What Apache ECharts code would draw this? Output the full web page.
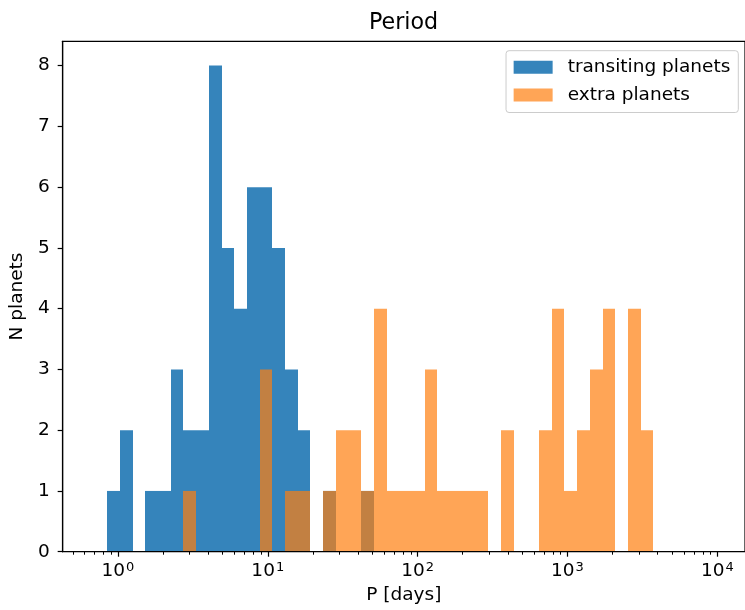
<!DOCTYPE html>
<html><head><meta charset="utf-8">
<script src="https://cdn.jsdelivr.net/npm/echarts@6/dist/echarts.min.js"></script>
<style>html,body{margin:0;padding:0;background:#fff}#c{width:745px;height:610px}</style>
</head><body><div id="c"></div>
<script>
// ---- data ----
const binStartDays = 0.849;   // first bin edge [days]
const binEndDays = 3743;      // last bin edge [days]
const nBins = 43;             // log-spaced bins
const transitingCounts = [1,2,0,1,1,3,2,2,8,5,4,6,6,5,3,2,0,1,0,0,1,0,0,0,0,0,0,0,0,0,0,0,0,0,0,0,0,0,0,0,0,0,0];
const extraCounts      = [0,0,0,0,0,0,1,0,0,0,0,0,3,0,1,1,0,1,2,2,1,4,1,1,1,3,1,1,1,1,0,2,0,0,2,4,1,2,3,4,0,4,2];
const xTickExponents = [0,1,2,3,4];
const yTicks = [0,1,2,3,4,5,6,7,8];
const seriesNames = ['transiting planets','extra planets'];
const titleText = 'Period';
const xName = 'P [days]';
const yName = 'N planets';

// ---- build ----
const FONT = 'DejaVu Sans';
const xMin = -0.3687, xMax = 4.1847;
const lg0 = Math.log10(binStartDays), lg1 = Math.log10(binEndDays);
const step = (lg1 - lg0) / nBins;
function binData(counts){
  return counts.map((c,i)=>[lg0 + i*step, lg0 + (i+1)*step, c]);
}
const minorTicks = [];
for (let d=-1; d<=4; d++) for (let k=2; k<=9; k++){
  const v = Math.log10(k) + d;
  if (v > xMin && v < xMax) minorTicks.push(v);
}
function renderBar(params, api){
  const n = api.value(2);
  if (!n) return null;
  const p0 = api.coord([api.value(0), n]);
  const p1 = api.coord([api.value(1), 0]);
  const x0 = Math.round(p0[0]), x1 = Math.round(p1[0]);
  return {type:'rect', shape:{x:x0, y:p0[1], width:x1-x0, height:p1[1]-p0[1]}, style: api.style()};
}
const chart = echarts.init(document.getElementById('c'), null, {renderer:'canvas'});
chart.setOption({
  animation:false,
  backgroundColor:'#fff',
  textStyle:{fontFamily:FONT},
  title:{text:titleText, left:403.5, top:12, padding:0, textAlign:'center',
    textStyle:{fontFamily:FONT, fontSize:22.2, fontWeight:'normal', color:'#000'}},
  grid:{left:62, right:0, top:41.3, bottom:58.3, show:true, borderColor:'#000', borderWidth:1.2, backgroundColor:'transparent'},
  legend:{orient:'vertical', right:6.7, top:50.7, padding:[7,8,8,7.6], itemWidth:39, itemHeight:13, itemGap:8.8,
    icon:'rect', backgroundColor:'#fff', borderColor:'#cccccc', borderWidth:1, borderRadius:3,
    textStyle:{fontFamily:FONT, fontSize:18.5, color:'#000', padding:[0,0,0,10]},
    data:seriesNames},
  xAxis:[{
    type:'value', min:xMin, max:xMax, position:'bottom', z:10,
    name:xName, nameLocation:'middle', nameGap:29,
    nameTextStyle:{fontFamily:FONT, fontSize:18.5, color:'#000'},
    axisLine:{show:true, onZero:false, lineStyle:{color:'#000', width:1.2}},
    axisTick:{show:true, length:5, customValues:xTickExponents, lineStyle:{color:'#000', width:1.2}},
    axisLabel:{show:true, customValues:xTickExponents, margin:9, color:'#000', fontFamily:FONT, fontSize:18.5,
      formatter:v=>'10{sup|'+Math.round(v)+'}',
      rich:{sup:{fontSize:13, fontFamily:FONT, color:'#000', verticalAlign:'top', padding:[0,0,8,1]}}},
    splitLine:{show:false}
  },{
    type:'value', min:xMin, max:xMax, position:'bottom', z:10, gridIndex:0,
    axisLine:{show:false, onZero:false},
    axisTick:{show:true, length:3, customValues:minorTicks, lineStyle:{color:'#000', width:1}},
    axisLabel:{show:false},
    splitLine:{show:false}
  }],
  yAxis:{
    type:'value', min:0, max:8.4, z:10, position:'left',
    name:yName, nameLocation:'middle', nameGap:32, nameRotate:90,
    nameTextStyle:{fontFamily:FONT, fontSize:18.5, color:'#000'},
    axisLine:{show:true, onZero:false, lineStyle:{color:'#000', width:1.2}},
    axisTick:{show:true, length:5, customValues:yTicks, lineStyle:{color:'#000', width:1.2}},
    axisLabel:{show:true, customValues:yTicks, margin:13, color:'#000', fontFamily:FONT, fontSize:18.5},
    splitLine:{show:false}
  },
  series:[
    {name:seriesNames[0], type:'custom', renderItem:renderBar, xAxisIndex:0, yAxisIndex:0,
      itemStyle:{color:'rgba(31,119,180,0.9)'}, encode:{x:[0,1], y:2}, data:binData(transitingCounts), z:2},
    {name:seriesNames[1], type:'custom', renderItem:renderBar, xAxisIndex:0, yAxisIndex:0,
      itemStyle:{color:'rgba(255,127,14,0.7)'}, encode:{x:[0,1], y:2}, data:binData(extraCounts), z:3}
  ]
});
</script>
</body></html>
